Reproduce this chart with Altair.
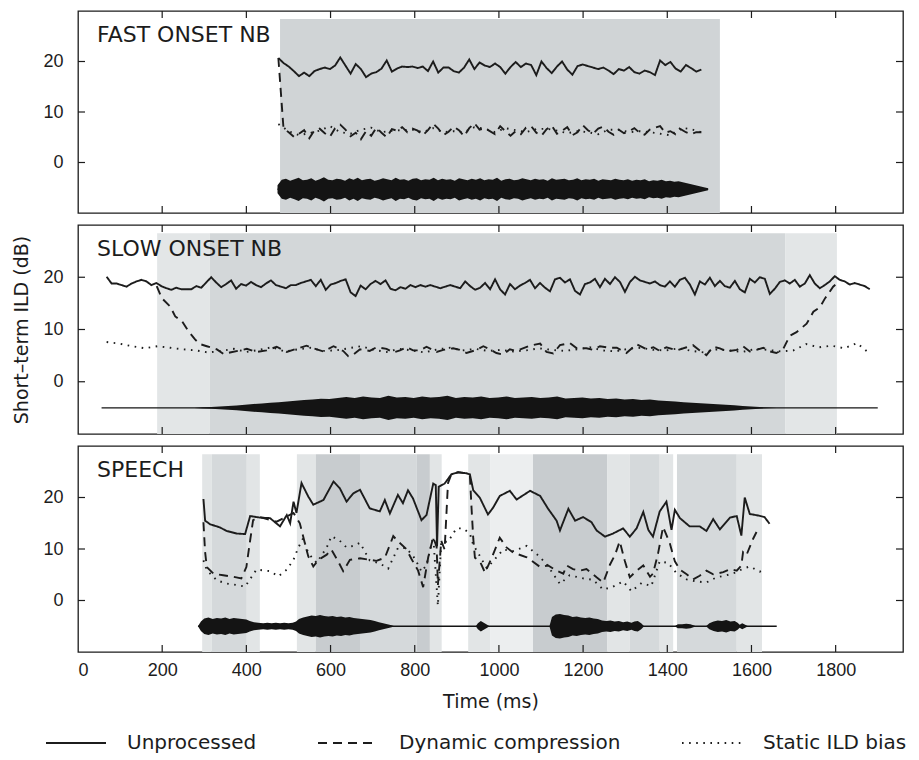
import altair as alt
import numpy as np
import pandas as pd

FONT = "DejaVu Sans, Verdana, sans-serif"
TICK_FONT = "Liberation Sans, Arial, Helvetica, sans-serif"
INK = "#1c1c1c"

SERIES = ["Unprocessed", "Dynamic compression", "Static ILD bias"]
DASHES = [[1, 0], [9, 6], [1.6, 5.5]]

X_DOMAIN = [0, 1960]
Y_DOMAIN = [-10, 30]
Y_TICKS = [0, 10, 20]
X_TICKS = [200, 400, 600, 800, 1000, 1200, 1400, 1600, 1800]
X_LABELS = [0, 200, 400, 600, 800, 1000, 1200, 1400, 1600, 1800]
PANEL_TITLES = ["FAST ONSET NB", "SLOW ONSET NB", "SPEECH"]

# ---------------- Panel 1 : fast onset narrow band ----------------
P1_SPAN = [476, 1481]
P1_UNPROC = [20.7, 19.7, 19.0, 18.1, 17.1, 17.8, 17.1, 18.1, 18.5, 18.8, 18.5, 19.2, 20.8, 19.2,
             17.6, 19.5, 18.5, 16.9, 17.6, 17.9, 18.6, 20.2, 18.0, 18.6, 19.0, 18.9, 19.0, 18.7,
             19.0, 18.1, 20.0, 17.8, 18.8, 18.8, 18.1, 17.8, 18.8, 20.4, 18.5, 19.8, 19.2, 18.9,
             19.6, 18.9, 17.6, 18.9, 19.9, 18.9, 19.6, 19.3, 17.3, 20.0, 18.7, 17.7, 19.0, 20.0,
             18.4, 17.4, 19.1, 19.4, 19.1, 18.8, 18.5, 18.8, 18.2, 17.5, 18.5, 18.2, 18.9, 17.9,
             17.6, 18.2, 17.9, 17.3, 20.2, 19.3, 19.9, 18.6, 18.0, 19.3, 18.7, 18.0, 18.4]
P1_DYN = [20.7, 6.7, 6.0, 5.1, 5.7, 6.4, 4.8, 6.4, 6.7, 5.8, 5.1, 6.8, 7.5, 6.5, 5.2, 5.9, 4.6,
          6.2, 5.3, 6.9, 5.9, 5.0, 6.6, 6.3, 7.0, 6.0, 6.7, 6.3, 5.4, 6.4, 7.7, 6.7, 5.4, 6.1,
          7.1, 6.4, 5.2, 6.8, 7.8, 6.5, 6.8, 6.2, 5.6, 7.2, 6.2, 5.3, 6.2, 5.6, 6.9, 7.2, 5.9,
          5.3, 6.6, 7.3, 5.7, 6.3, 7.0, 5.4, 6.0, 7.4, 6.4, 5.7, 6.7, 7.1, 6.1, 5.5, 6.5, 5.8,
          6.2, 6.8, 5.9, 5.5, 6.5, 6.9, 7.2, 5.9, 6.2, 5.6, 6.6, 6.0, 5.6, 6.0, 6.0]
P1_STATIC = [7.6, 6.2, 5.4, 5.8, 6.3, 7.2, 6.0, 5.7, 6.5, 6.9, 6.0, 6.3, 6.4, 6.5, 6.0, 6.8,
             6.0, 6.2, 6.0, 7.0, 6.7, 6.0, 6.8, 6.4, 6.0, 6.6, 6.7, 6.3, 5.8, 6.2, 6.0, 5.6,
             6.5, 6.5, 6.0, 6.2, 6.0, 5.7, 5.4, 6.9, 6.6, 6.0]
P1_WAVE_SPAN = [474, 1497]
P1_WAVE_CENTER = -5.3
P1_WAVE_AMP = [0.8, 1.9, 2.1, 1.7, 2.0, 2.3, 1.8, 1.9, 2.2, 1.7, 2.0, 2.4, 1.9, 1.8, 2.1, 2.0,
               1.7, 2.2, 1.9, 2.3, 1.8, 2.0, 2.1, 1.7, 1.9, 2.2, 2.0, 1.8, 2.3, 1.9, 2.0, 1.7,
               2.1, 2.2, 1.8, 2.0, 1.9, 2.3, 1.8, 2.1, 1.9, 2.0, 1.7, 2.2, 2.0, 1.8, 2.1, 1.9,
               2.2, 1.8, 2.0, 1.9, 2.3, 1.7, 2.0, 2.1, 1.8, 1.9, 2.2, 2.0, 1.8, 2.1, 1.9, 2.0,
               1.7, 2.2, 1.9, 2.0, 2.1, 1.8, 1.9, 2.2, 1.8, 2.0, 1.9, 2.1, 1.7, 2.0, 1.9, 1.8,
               2.1, 1.9, 1.8, 2.0, 1.7, 1.9, 1.8, 2.0, 1.6, 1.8, 1.7, 1.9, 1.6, 1.7, 1.5, 1.6,
               1.4, 1.2, 1.0, 0.8, 0.6, 0.4, 0.2]
P1_BG = [(480, 1525, "#d0d4d6")]

# ---------------- Panel 2 : slow onset narrow band ----------------
P2_UNPROC_A_SPAN = [68, 1050]
P2_UNPROC_A = [20.1, 18.8, 18.8, 18.5, 18.2, 18.8, 19.2, 19.5, 19.2, 18.5, 18.9, 18.3, 17.9, 17.6,
               18.0, 17.7, 17.7, 17.7, 18.3, 18.0, 19.0, 20.0, 19.0, 18.1, 18.7, 19.4, 17.8, 18.7,
               18.4, 19.1, 18.5, 18.1, 18.8, 19.4, 18.5, 18.2, 17.9, 18.5, 18.5, 18.9, 19.2, 19.5,
               18.3, 19.5, 17.6, 18.6, 18.9, 19.3, 19.6, 17.1, 16.4, 18.4, 17.7, 18.7, 19.3, 18.7,
               19.4, 17.8, 17.5, 18.1, 17.8, 18.5, 18.1, 18.5, 18.2, 18.5, 18.2, 17.9, 18.2, 18.5,
               18.2, 17.9, 19.2, 18.3, 17.6, 18.0, 18.9, 17.7, 19.6, 17.7, 16.7, 18.7, 17.7, 18.4]
P2_UNPROC_B_SPAN = [1062, 1881]
P2_UNPROC_B = [18.9, 19.5, 17.9, 18.9, 18.0, 17.3, 19.6, 19.9, 19.0, 19.6, 17.4, 16.7, 18.7, 19.0,
               19.7, 18.1, 19.7, 18.7, 20.0, 19.1, 17.2, 19.1, 20.1, 19.4, 19.1, 18.8, 19.2, 18.5,
               18.2, 19.2, 18.2, 19.5, 19.9, 18.6, 16.7, 19.2, 18.6, 19.9, 18.3, 19.3, 18.3, 18.0,
               19.3, 17.7, 17.1, 19.7, 19.0, 20.0, 19.7, 16.8, 17.8, 19.1, 19.4, 18.8, 19.5, 18.2,
               18.8, 20.4, 18.8, 17.9, 18.5, 19.2, 20.2, 19.5, 19.2, 18.6, 18.9, 18.6, 18.3, 17.7]
P2_DYN_T = [187, 199, 219, 231, 247, 262, 278, 290, 306, 330, 346, 361, 385, 401, 424, 448, 472,
            496, 511, 543, 559, 583, 607, 630, 642, 654, 670, 693, 709, 733, 749, 765, 781, 796,
            812, 828, 852, 868, 891, 907, 923, 947, 963, 979, 994, 1010, 1026, 1042, 1074, 1098,
            1113, 1129, 1145, 1169, 1185, 1208, 1224, 1240, 1264, 1280, 1303, 1327, 1351, 1367,
            1382, 1398, 1422, 1446, 1461, 1477, 1493, 1509, 1525, 1541, 1565, 1580, 1596, 1612,
            1628, 1644, 1659, 1675, 1691, 1707, 1731, 1747, 1763, 1775, 1783, 1794, 1810]
P2_DYN_V = [18.3, 16.0, 14.4, 12.5, 11.6, 9.7, 8.1, 7.2, 6.8, 6.2, 5.3, 5.6, 6.0, 6.3, 5.7, 6.0,
            6.7, 5.7, 6.1, 6.9, 6.4, 5.8, 6.8, 5.9, 4.9, 5.2, 6.2, 5.9, 6.6, 6.3, 5.6, 6.0, 6.6,
            6.0, 6.0, 6.7, 5.7, 6.1, 6.4, 6.1, 5.5, 6.1, 6.8, 6.2, 5.5, 5.2, 6.2, 5.9, 6.9, 7.3,
            5.7, 5.4, 7.0, 7.4, 6.4, 6.4, 6.1, 6.8, 6.5, 6.5, 5.5, 7.2, 6.2, 6.6, 5.9, 6.6, 6.0,
            6.6, 7.0, 6.0, 5.1, 6.7, 6.4, 5.8, 6.1, 6.8, 5.8, 6.1, 6.5, 5.8, 5.5, 6.2, 8.8, 9.5,
            11.1, 13.4, 14.3, 16.0, 16.9, 18.2, 19.3]
P2_STATIC_SPAN = [68, 1881]
P2_STATIC = [7.6, 7.3, 6.8, 6.4, 6.8, 6.5, 6.2, 6.0, 5.6, 5.9, 6.3, 5.7, 6.1, 6.6, 5.8, 6.2, 6.5,
             5.9, 6.0, 6.4, 6.8, 6.1, 5.7, 6.3, 6.0, 5.6, 6.2, 6.5, 6.0, 6.3, 5.9, 6.1, 5.8, 6.0,
             6.4, 6.1, 5.9, 6.2, 6.6, 6.0, 5.8, 6.3, 6.5, 6.1, 6.0, 6.4, 5.9, 5.6, 6.2, 6.0, 5.7,
             6.3, 6.1, 5.8, 6.0, 7.2, 6.6, 6.9, 6.4, 7.4, 5.4]
P2_WAVE_SPAN = [56, 1900]
P2_WAVE_CENTER = -5.0
P2_WAVE_AMP = [0, 0, 0, 0, 0, 0, 0, 0, 0, 0, 0, 0,
               0.1, 0.15, 0.25, 0.35, 0.45, 0.6, 0.75, 0.85, 1.0, 1.1, 1.2, 1.35, 1.5, 1.6, 1.75,
               1.7, 1.9, 2.1, 1.9, 2.2, 2.0, 1.9, 2.3, 2.0, 2.1, 1.9, 2.2, 2.0, 2.1, 2.3, 1.9, 2.1,
               2.0, 2.2, 1.9, 2.0, 2.2, 1.9, 2.0, 2.1, 1.9, 2.0, 2.2, 1.8, 1.9, 2.0, 1.8, 1.9, 1.7,
               1.8, 1.6, 1.7, 1.5, 1.6, 1.4, 1.3, 1.2, 1.1, 1.0, 0.9, 0.8, 0.7, 0.6, 0.5, 0.35,
               0.25, 0.15, 0.08, 0, 0, 0, 0, 0, 0, 0, 0, 0, 0, 0, 0, 0]
P2_BG = [(188, 313, "#e3e6e7"), (313, 1680, "#d3d7d9"), (1680, 1803, "#e3e6e7")]

# ---------------- Panel 3 : speech ----------------
P3_UNPROC = [(298, 19.7), (302, 15.5), (314, 14.8), (337, 14.2), (353, 13.5), (377, 13.0),
             (397, 12.9), (409, 16.4), (432, 16.1), (456, 16.0), (480, 14.4), (496, 16.6),
             (504, 15.0), (512, 19.2), (519, 17.0), (531, 22.8), (547, 20.2), (559, 18.6),
             (583, 19.5), (607, 23.1), (622, 21.8), (638, 19.2), (654, 20.8), (670, 21.5),
             (693, 17.9), (717, 17.3), (729, 19.5), (741, 16.9), (760, 20.5), (772, 18.9),
             (784, 21.4), (796, 19.8), (816, 15.6), (828, 16.6), (844, 22.7), (850, 22.4),
             (853, 10.5), (857, 22.1), (871, 22.7), (887, 24.5), (903, 24.9), (923, 24.7),
             (931, 24.5), (939, 21.4), (955, 19.9), (974, 16.7), (986, 18.0), (1002, 20.3),
             (1026, 21.3), (1042, 19.6), (1074, 21.3), (1098, 20.3), (1117, 17.8), (1137, 15.5),
             (1145, 13.6), (1165, 17.8), (1181, 15.5), (1200, 16.2), (1220, 15.2), (1232, 13.6),
             (1252, 12.4), (1271, 13.0), (1295, 14.0), (1311, 12.4), (1327, 14.0), (1343, 17.2),
             (1355, 13.7), (1366, 12.4), (1382, 17.3), (1398, 19.2), (1410, 13.7), (1418, 17.6),
             (1430, 16.0), (1453, 14.4), (1477, 14.4), (1493, 13.5), (1509, 15.8), (1525, 13.8),
             (1549, 16.1), (1565, 16.4), (1576, 12.6), (1584, 20.0), (1596, 16.8), (1616, 16.5),
             (1631, 16.2), (1643, 14.9)]
P3_DYN = [(298, 15.2), (302, 9.4), (306, 6.5), (322, 5.2), (345, 4.9), (369, 4.6), (388, 4.3),
          (400, 6.5), (409, 11.7), (416, 15.6), (432, 16.2), (472, 15.3), (512, 17.0), (527, 15.0),
          (539, 11.1), (547, 8.6), (559, 6.6), (571, 7.9), (591, 8.9), (602, 9.9), (618, 7.6),
          (630, 5.7), (646, 7.9), (670, 8.2), (693, 7.9), (709, 7.7), (729, 8.3), (749, 12.5),
          (760, 11.5), (780, 10.0), (792, 8.1), (808, 5.8), (820, 2.6), (832, 8.4), (844, 12.3),
          (852, 10.4), (855, 3.0), (863, 11.6), (871, 9.9), (879, 22.8), (887, 24.5), (903, 24.9),
          (923, 24.7), (931, 24.3), (935, 17.9), (939, 12.1), (943, 8.3), (955, 7.6), (967, 5.4),
          (983, 8.3), (1002, 12.2), (1018, 10.3), (1034, 9.3), (1066, 8.4), (1098, 6.5),
          (1117, 6.8), (1137, 5.8), (1153, 5.2), (1161, 6.8), (1176, 6.1), (1192, 5.8),
          (1208, 6.1), (1232, 4.5), (1248, 3.5), (1264, 7.0), (1276, 8.9), (1287, 11.5),
          (1299, 7.7), (1311, 4.5), (1327, 5.8), (1343, 6.8), (1359, 4.6), (1366, 5.2),
          (1378, 9.1), (1390, 14.3), (1406, 11.1), (1418, 7.6), (1430, 6.0), (1446, 5.1),
          (1461, 4.1), (1477, 4.8), (1493, 5.8), (1509, 5.1), (1533, 5.5), (1549, 6.1),
          (1565, 5.8), (1576, 6.8), (1580, 9.4), (1588, 8.8), (1604, 12.0), (1612, 13.3)]
P3_STATIC = [(298, 7.8), (306, 5.9), (330, 3.9), (353, 3.3), (377, 3.0), (397, 2.7), (424, 6.0),
             (456, 5.7), (476, 4.7), (496, 6.0), (512, 7.9), (523, 10.2), (535, 12.1), (547, 9.2),
             (567, 7.3), (591, 10.3), (602, 12.5), (622, 11.6), (638, 10.3), (654, 10.6),
             (670, 11.2), (693, 7.8), (717, 7.2), (737, 6.2), (760, 10.2), (780, 10.2), (800, 8.2),
             (816, 5.6), (828, 6.9), (844, 12.4), (855, -1.0), (863, 11.4), (879, 11.4),
             (899, 14.0), (915, 14.0), (931, 13.0), (939, 10.8), (955, 8.6), (971, 6.3),
             (986, 7.6), (1010, 9.9), (1034, 9.6), (1066, 10.6), (1090, 9.0), (1113, 7.1),
             (1145, 3.2), (1168, 4.9), (1200, 4.3), (1224, 4.0), (1248, 2.1), (1271, 2.7),
             (1295, 3.7), (1315, 1.8), (1339, 3.4), (1362, 2.8), (1382, 7.6), (1402, 7.3),
             (1422, 5.3), (1446, 4.1), (1469, 3.7), (1493, 3.5), (1517, 4.5), (1541, 4.9),
             (1565, 5.5), (1580, 6.2), (1596, 6.6), (1620, 5.6), (1631, 6.0)]
P3_WAVE_SPAN = [285, 1660]
P3_WAVE_CENTER = -5.0
P3_WAVE = [(285, 0), (292, 0.9), (300, 1.5), (310, 1.7), (320, 1.4), (330, 1.6), (340, 1.5),
           (350, 1.7), (360, 1.4), (370, 1.6), (380, 1.5), (390, 1.4), (400, 1.3), (408, 1.0),
           (418, 0.8), (428, 0.7), (440, 0.6), (450, 0.7), (460, 0.6), (470, 0.7), (480, 0.6),
           (490, 0.7), (500, 0.6), (510, 0.7), (518, 0.9), (525, 1.4), (535, 1.7), (545, 1.9),
           (555, 2.1), (565, 2.0), (575, 2.2), (585, 2.0), (595, 1.9), (605, 2.0), (615, 1.8),
           (625, 1.9), (635, 1.7), (645, 1.8), (655, 1.6), (665, 1.5), (675, 1.4), (685, 1.3),
           (695, 1.2), (705, 1.0), (715, 0.8), (725, 0.6), (735, 0.4), (745, 0.2), (752, 0),
           (945, 0), (950, 0.6), (957, 1.0), (964, 0.7), (972, 0.3), (978, 0),
           (1120, 0), (1126, 1.8), (1135, 2.3), (1145, 2.4), (1155, 2.2), (1165, 2.1),
           (1175, 1.8), (1185, 1.9), (1195, 1.7), (1205, 1.6), (1215, 1.7), (1225, 1.5),
           (1235, 1.4), (1245, 1.1), (1255, 1.0), (1265, 1.1), (1275, 0.9), (1285, 1.0),
           (1295, 0.8), (1305, 0.9), (1315, 0.7), (1322, 0.9), (1330, 1.0), (1338, 0.6),
           (1345, 0), (1418, 0), (1425, 0.4), (1435, 0.4), (1445, 0.5), (1455, 0.4),
           (1462, 0.2), (1468, 0), (1492, 0), (1500, 0.6), (1510, 0.9), (1520, 1.1),
           (1530, 1.0), (1540, 1.2), (1550, 0.9), (1560, 1.0), (1567, 0.7), (1572, 0.3),
           (1578, 0.6), (1585, 0.3), (1592, 0), (1660, 0)]
SHADE = {"xl": "#eceeef", "l": "#e2e5e6", "m": "#d5d9db", "d": "#c8cccf"}
P3_BG = [(295, 318, "l"), (318, 401, "m"), (401, 432, "l"), (520, 565, "l"), (565, 670, "d"),
         (670, 805, "m"), (805, 836, "d"), (836, 864, "l"), (927, 979, "l"), (979, 1081, "xl"),
         (1081, 1138, "d"), (1138, 1257, "d"), (1257, 1311, "l"), (1311, 1382, "m"),
         (1382, 1414, "l"), (1423, 1565, "m"), (1565, 1625, "l")]
BG_TOP = 28.4
BG_BOTTOM = -10

HEIGHTS = [202, 209, 206]
W = 825


def uniform(span, vals, name):
    return pd.DataFrame({"t": np.linspace(span[0], span[1], len(vals)), "v": vals, "s": name})


def pairs(pts, name):
    return pd.DataFrame({"t": [p[0] for p in pts], "v": [p[1] for p in pts], "s": name})


def wave_df(times, amps, center):
    a = np.asarray(amps, dtype=float)
    return pd.DataFrame({"t": times, "lo": center - a, "hi": center + a})


lines1 = pd.concat([uniform(P1_SPAN, P1_UNPROC, SERIES[0]),
                    uniform(P1_SPAN, P1_DYN, SERIES[1]),
                    uniform(P1_SPAN, P1_STATIC, SERIES[2])])
lines2 = pd.concat([uniform(P2_UNPROC_A_SPAN, P2_UNPROC_A, SERIES[0]),
                    uniform(P2_UNPROC_B_SPAN, P2_UNPROC_B, SERIES[0]),
                    pd.DataFrame({"t": P2_DYN_T, "v": P2_DYN_V, "s": SERIES[1]}),
                    uniform(P2_STATIC_SPAN, P2_STATIC, SERIES[2])])
lines3 = pd.concat([pairs(P3_UNPROC, SERIES[0]), pairs(P3_DYN, SERIES[1]),
                    pairs(P3_STATIC, SERIES[2])])

wave1 = wave_df(np.linspace(P1_WAVE_SPAN[0], P1_WAVE_SPAN[1], len(P1_WAVE_AMP)), P1_WAVE_AMP, P1_WAVE_CENTER)
wave2 = wave_df(np.linspace(P2_WAVE_SPAN[0], P2_WAVE_SPAN[1], len(P2_WAVE_AMP)), P2_WAVE_AMP, P2_WAVE_CENTER)
wave3 = wave_df([p[0] for p in P3_WAVE], [p[1] for p in P3_WAVE], P3_WAVE_CENTER)

bg1 = pd.DataFrame([{"t0": a, "t1": b, "c": c, "y0": BG_BOTTOM, "y1": BG_TOP} for a, b, c in P1_BG])
bg2 = pd.DataFrame([{"t0": a, "t1": b, "c": c, "y0": BG_BOTTOM, "y1": BG_TOP} for a, b, c in P2_BG])
bg3 = pd.DataFrame([{"t0": a, "t1": b, "c": SHADE[k], "y0": BG_BOTTOM, "y1": BG_TOP} for a, b, k in P3_BG])

dash_legend = alt.Legend(
    title=None, orient="none", legendX=-13, legendY=721, direction="horizontal",
    symbolType="M-3,0L3,0", symbolSize=400, symbolStrokeWidth=2, symbolStrokeColor=INK,
    labelFontSize=20, labelFont=FONT, labelColor=INK, labelOffset=40, columnPadding=57,
    labelLimit=400,
)


def make_panel(idx, lines, wave, wave_span, wave_c, bg, last, ytitle):
    H = HEIGHTS[idx]
    xscale = alt.Scale(domain=X_DOMAIN, nice=False, zero=False)
    yscale = alt.Scale(domain=Y_DOMAIN, nice=False, zero=False)
    if last:
        xaxis = alt.Axis(values=X_LABELS, ticks=False, domain=False, grid=False, labelFontSize=18,
                         labelFont=TICK_FONT, labelPadding=9, titleFontSize=19, titleFont=FONT,
                         titlePadding=13, titleFontWeight="normal", format="d")
    else:
        xaxis = None
    yaxis = alt.Axis(values=Y_TICKS, ticks=False, domain=False, grid=False, labelFontSize=18,
                     labelFont=TICK_FONT, labelPadding=15, titleFontSize=19, titleFont=FONT,
                     titlePadding=11, titleFontWeight="normal")

    def X(f):
        if last:
            return alt.X(f, type="quantitative", scale=xscale, axis=xaxis, title="Time (ms)")
        return alt.X(f, type="quantitative", scale=xscale, axis=xaxis)

    def Y(f):
        return alt.Y(f, type="quantitative", scale=yscale, axis=yaxis, title=ytitle)

    bg_layer = alt.Chart(bg).mark_rect().encode(
        x=X("t0"), x2="t1:Q", y=Y("y0"), y2="y1:Q", color=alt.Color("c:N", scale=None))
    wave_layer = alt.Chart(wave).mark_area(color="#141414", interpolate="linear").encode(
        x=X("t"), y=Y("lo"), y2="hi:Q")
    center = pd.DataFrame({"t0": [wave_span[0]], "t1": [wave_span[1]], "c": [wave_c]})
    center_layer = alt.Chart(center).mark_rule(color="#141414", strokeWidth=1.4).encode(
        x=X("t0"), x2="t1:Q", y=Y("c"))
    line_layer = alt.Chart(lines).mark_line(color=INK, strokeWidth=1.9, clip=True).encode(
        x=X("t"), y=Y("v"),
        strokeDash=alt.StrokeDash("s:N", scale=alt.Scale(domain=SERIES, range=DASHES),
                                  legend=dash_legend),
        order="t:Q")
    ytk = pd.DataFrame({"v": Y_TICKS})
    xtk = pd.DataFrame({"t": X_TICKS})
    tl = alt.Chart(ytk).mark_rule(color=INK, strokeWidth=1.2).encode(
        x=alt.value(0), x2=alt.value(7), y=Y("v"))
    tr = alt.Chart(ytk).mark_rule(color=INK, strokeWidth=1.2).encode(
        x=alt.value(W - 7), x2=alt.value(W), y=Y("v"))
    tt = alt.Chart(xtk).mark_rule(color=INK, strokeWidth=1.2).encode(
        x=X("t"), y=alt.value(0), y2=alt.value(7))
    tb = alt.Chart(xtk).mark_rule(color=INK, strokeWidth=1.2).encode(
        x=X("t"), y=alt.value(H - 7), y2=alt.value(H))
    label = alt.Chart(pd.DataFrame({"label": [PANEL_TITLES[idx]]})).mark_text(
        align="left", baseline="top", fontSize=22, font=FONT, color=INK).encode(
        x=alt.value(19), y=alt.value(14), text="label:N")
    return alt.layer(bg_layer, wave_layer, center_layer, line_layer, tl, tr, tt, tb, label).properties(
        width=W, height=H)


p1 = make_panel(0, lines1, wave1, P1_WAVE_SPAN, P1_WAVE_CENTER, bg1, False, " ")
p2 = make_panel(1, lines2, wave2, P2_WAVE_SPAN, P2_WAVE_CENTER, bg2, False, "Short\u2013term ILD (dB)")
p3 = make_panel(2, lines3, wave3, P3_WAVE_SPAN, P3_WAVE_CENTER, bg3, True, " ")

chart = alt.vconcat(p1, p2, p3, spacing=8).configure_view(
    stroke=INK, strokeWidth=1.3
).configure_axis(
    labelColor=INK, titleColor=INK
).properties(
    padding={"left": 4, "top": 1, "right": 0, "bottom": 0}, background="white"
)

chart.save("out.html", embed_options={"renderer": "svg", "actions": False})
